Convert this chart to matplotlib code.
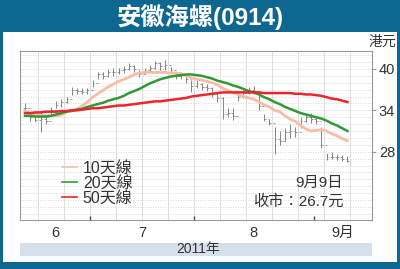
import matplotlib
matplotlib.use("Agg")
import matplotlib.pyplot as plt
from matplotlib.patches import Rectangle
import numpy as np

plt.rcParams['font.family'] = ['Liberation Sans', 'Noto Sans CJK TC', 'DejaVu Sans']

title = "安徽海螺(0914)"
unit_label = "港元"
year_label = "2011年"
month_labels = ["6", "7", "8", "9月"]
month_starts = [12.5, 32.5, 55.5]   # boundaries between months (trading-day index)
yticks = [28, 34, 40]
legend_labels = ["10天線", "20天線", "50天線"]
note_date = "9月9日"
note_close = "收市：26.7元"

# daily bars (trading days, mid-June .. 9 Sep 2011)
high = [35.0, 33.6, 33.3, 33.7, 33.0, 34.5, 35.3, 35.6, 36.0, 37.4, 37.2, 37.2, 37.3,
        38.4, 39.6, 39.5, 40.0, 40.1, 40.2, 40.4, 40.9, 40.6, 39.8, 40.2, 40.6, 41.2,
        41.0, 41.3, 40.3, 39.6, 39.5, 39.2, 38.4, 38.4, 38.0, 37.8, 37.4, 36.6, 36.0,
        34.4, 34.3, 36.8, 37.0, 37.4, 37.5, 36.4, 33.4, 32.8, 31.6, 31.0, 31.4, 32.0,
        31.6, 33.0, 33.5, 33.6, 33.2, 31.6, 27.8, 27.9, 27.6, 27.5, 27.4]
low = [34.0, 32.5, 32.3, 30.8, 32.0, 33.2, 34.3, 34.5, 35.0, 36.2, 36.4, 36.3, 36.4,
       37.4, 38.6, 38.5, 38.9, 39.0, 39.2, 39.4, 39.8, 39.6, 38.8, 39.2, 39.6, 40.0,
       39.8, 39.9, 39.4, 38.6, 38.5, 38.0, 36.6, 37.3, 37.0, 36.8, 36.0, 35.2, 32.8,
       33.0, 32.6, 35.4, 35.8, 36.4, 36.4, 34.0, 32.4, 31.8, 27.6, 29.0, 29.6, 30.0,
       30.2, 31.5, 32.3, 32.2, 32.0, 28.6, 26.8, 26.9, 26.8, 26.6, 26.5]
close = [34.3, 33.0, 32.6, 32.8, 32.4, 34.0, 34.8, 35.2, 35.6, 37.0, 36.8, 36.6, 37.0,
         38.0, 39.2, 39.0, 39.6, 39.5, 39.8, 40.0, 40.4, 40.0, 39.3, 39.8, 40.2, 40.8,
         40.4, 40.5, 39.8, 39.0, 39.2, 38.6, 37.5, 37.8, 37.4, 37.2, 36.4, 35.8, 33.4,
         33.6, 33.2, 36.0, 36.5, 37.0, 36.8, 34.6, 32.8, 32.2, 29.8, 29.5, 30.8, 31.0,
         30.8, 32.5, 33.0, 32.8, 32.4, 29.0, 27.2, 27.3, 27.2, 27.0, 26.7]

ma10 = [33.9, 33.6, 33.4, 33.3, 33.2, 33.2, 33.2, 33.3, 33.8, 34.0, 34.2, 34.6, 35.2,
        35.9, 36.4, 36.9, 37.4, 37.8, 38.2, 38.5, 38.8, 39.2, 39.4, 39.5, 39.5, 39.5,
        39.5, 39.5, 39.4, 39.4, 39.3, 39.0, 38.7, 38.5, 38.4, 38.2, 38.0, 37.7, 37.2,
        36.9, 36.6, 36.3, 36.0, 35.8, 35.6, 35.2, 34.8, 34.5, 34.0, 33.8, 33.2, 32.7,
        32.4, 31.8, 31.3, 31.0, 31.1, 31.2, 31.0, 30.6, 30.3, 29.9, 29.6]
ma20 = [33.2, 33.2, 33.1, 33.1, 33.1, 33.2, 33.4, 33.6, 33.8, 33.9, 34.1, 34.2, 34.5,
        34.7, 34.9, 35.1, 35.4, 35.6, 35.8, 36.1, 36.5, 36.8, 37.1, 37.5, 37.9, 38.2,
        38.5, 38.7, 38.9, 39.0, 39.1, 39.2, 39.2, 39.1, 39.0, 38.8, 38.6, 38.3, 38.1,
        37.9, 37.6, 37.4, 37.1, 36.8, 36.6, 36.3, 35.9, 35.6, 35.2, 34.9, 34.5, 34.2,
        33.9, 33.6, 33.4, 33.2, 33.0, 32.8, 32.5, 32.1, 31.8, 31.4, 31.0]
ma50 = [33.6, 33.6, 33.7, 33.7, 33.8, 33.8, 33.8, 33.9, 33.9, 34.0, 34.0, 34.1, 34.2,
        34.3, 34.3, 34.4, 34.5, 34.6, 34.7, 34.7, 34.8, 34.9, 35.0, 35.1, 35.2, 35.3,
        35.3, 35.4, 35.5, 35.6, 35.7, 35.8, 36.0, 36.1, 36.2, 36.3, 36.4, 36.5, 36.6,
        36.6, 36.6, 36.6, 36.6, 36.6, 36.6, 36.6, 36.5, 36.5, 36.5, 36.5, 36.5, 36.5,
        36.4, 36.4, 36.3, 36.3, 36.2, 36.1, 35.9, 35.7, 35.6, 35.4, 35.2]

frame_col = "#0d6791"
bar_col = "#858585"
c10, c20, c50 = "#f7bda6", "#2f9a34", "#e8262c"

W, H = 400, 269
fig = plt.figure(figsize=(W / 100, H / 100), dpi=100)
fig.patch.set_facecolor(frame_col)
fig.patches.append(Rectangle((3 / W, 7 / H), 394 / W, 230 / H, transform=fig.transFigure,
                             facecolor="white", edgecolor="none", zorder=-2))
fig.patches.append(Rectangle((20 / W, 13 / H), 352 / W, 13 / H, transform=fig.transFigure,
                             facecolor="#d5e0ea", edgecolor="none", zorder=-1))
fig.text(0.5, 1 - 17 / H, title, color="white", fontsize=17.5, fontweight="bold",
         ha="center", va="center")
fig.text(382 / W, 1 - 42 / H, unit_label, color="#333333", fontsize=10, ha="center", va="center")
fig.text(198 / W, 20.5 / H, year_label, color="#333333", fontsize=10, ha="center", va="center")

ax = fig.add_axes([20 / W, 49 / H, 352 / W, 169 / H])
ax.set_zorder(3)
n = len(close)
x = np.arange(n)
xmin, xmax = -0.96, 66.73
ax.set_xlim(xmin, xmax)
ax.set_ylim(18.1, 42.6)

# grid
for yv in range(19, 43):
    ax.axhline(yv, color="#dadada", lw=0.6, ls=(0, (1.5, 1.5)), zorder=0)
for xv in np.arange(2.5, n + 1, 5):
    ax.axvline(xv, color="#dedede", lw=0.7, zorder=0)

# bars
opn = [close[0]] + close[:-1]
ax.vlines(x, low, high, color=bar_col, lw=0.7, zorder=2)
ax.hlines(opn, x - 0.35, x, color=bar_col, lw=0.6, zorder=2)
ax.hlines(close, x, x + 0.35, color=bar_col, lw=0.6, zorder=2)

l10, = ax.plot(x, ma10, color=c10, lw=2.0, zorder=3, label=legend_labels[0])
l20, = ax.plot(x, ma20, color=c20, lw=1.8, zorder=4, label=legend_labels[1])
l50, = ax.plot(x, ma50, color=c50, lw=1.8, zorder=5, label=legend_labels[2])

leg = ax.legend(handles=[l10, l20, l50], loc="upper left",
                bbox_to_anchor=((62 - 20) / 352, (220 - 160.5) / 169),
                frameon=False, fontsize=11.5, handlelength=0.95, handletextpad=0.35,
                labelspacing=0.0, borderpad=0, borderaxespad=0)
for t in leg.get_texts():
    t.set_color("#333333")
for h in leg.legend_handles:
    h.set_linewidth(1.2)

ax.text((343 - 20) / 352, (220 - 183) / 169, note_date, transform=ax.transAxes,
        ha="right", va="center", fontsize=11, color="#333333")
ax.text((344 - 20) / 352, (220 - 201) / 169, note_close, transform=ax.transAxes,
        ha="right", va="center", fontsize=11, color="#333333")

for s in ax.spines.values():
    s.set_color("#999999")
    s.set_linewidth(0.8)

ax.yaxis.tick_right()
ax.set_yticks(yticks)
ax.set_yticklabels([str(v) for v in yticks])
ax.tick_params(axis="y", direction="out", length=3, width=0.8, colors="#999999",
               labelcolor="#333333", labelsize=10.5, pad=2)

bounds = [xmin] + month_starts + [xmax]
centers = [(bounds[i] + bounds[i + 1]) / 2 for i in range(len(month_labels))]
ax.set_xticks(month_starts)
ax.set_xticklabels([])
ax.set_xticks(centers, minor=True)
ax.set_xticklabels(month_labels, minor=True)
ax.tick_params(axis="x", which="major", direction="in", length=3, width=1.0, colors="#444444")
ax.tick_params(axis="x", which="minor", length=0, labelsize=10.5, labelcolor="#333333", pad=4)

fig.savefig("out.png", dpi=100, facecolor=fig.get_facecolor())
